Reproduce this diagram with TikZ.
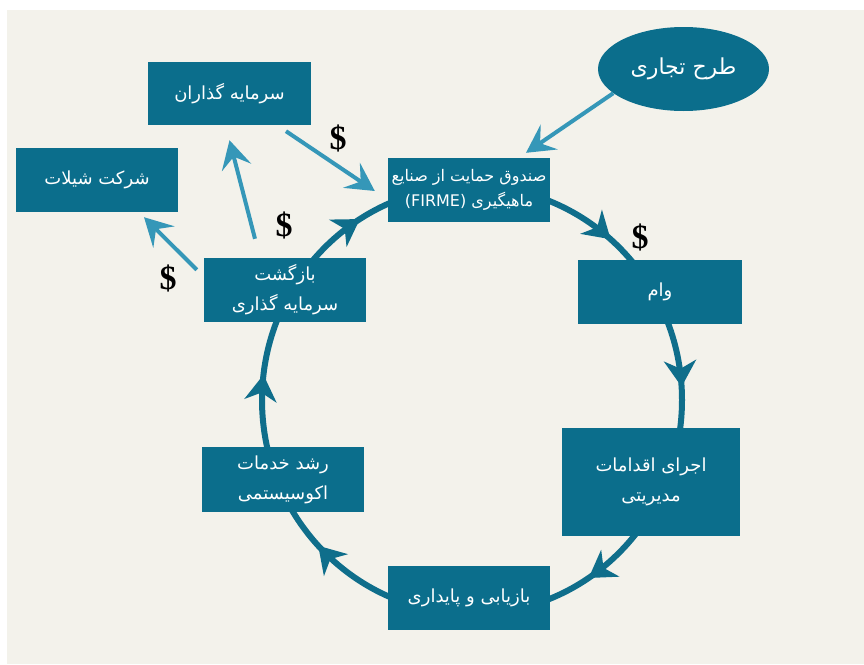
\documentclass[tikz,border=0pt]{standalone}
\usepackage{fontspec}
\usetikzlibrary{arrows.meta,decorations.markings,shapes.geometric,calc}
\TeXXeTstate=1
\newfontfamily\fa[Script=Arabic]{DejaVu Sans}
\newfontfamily\dolfont{Liberation Serif}
\newcommand\faR[1]{\beginR #1\endR}
\definecolor{bgc}{HTML}{F3F2EB}
\definecolor{boxc}{HTML}{0B6E8C}
\definecolor{ringc}{HTML}{0F6E8B}
\definecolor{arrc}{HTML}{3597B8}
\tikzset{
  RingTip/.tip={Stealth[length=26pt,width=32pt,inset=8pt]},
  box/.style={fill=boxc, text=white, font=\fa\fontsize{18}{30}\selectfont, align=center, inner sep=0pt},
  ringline/.style={draw=ringc, line width=6pt},
  sarrow/.style={draw=arrc, line width=4pt, -{Stealth[length=28pt,width=30pt,inset=11pt]}},
  dollar/.style={font=\dolfont\bfseries\fontsize{34}{36}\selectfont, text=black}
}
\begin{document}
\begin{tikzpicture}[x=1pt,y=1pt]
\useasboundingbox (0,0) rectangle (864,-664);
\fill[white] (0,0) rectangle (864,-664);
\fill[bgc] (7,-10) rectangle (864,-664);

% ring
\draw[ringline, postaction={decorate}, decoration={markings,
  mark=at position 0.114 with {\arrow{RingTip}},
  mark=at position 0.24 with {\arrow{RingTip}},
  mark=at position 0.407 with {\arrow{RingTip}},
  mark=at position 0.63 with {\arrow{RingTip}},
  mark=at position 0.769 with {\arrow{RingTip}},
  mark=at position 0.911 with {\arrow{RingTip}}}]
  (472,-186) arc[start angle=90, end angle=-270, x radius=210, y radius=214];

% nodes
\node[ellipse, fill=boxc, text=white, font=\fa\fontsize{22}{26}\selectfont, minimum width=171pt, minimum height=84pt, inner sep=0pt] (ell) at (683.5,-69) {\faR{طرح تجاری}};
\node[box, minimum width=163pt, minimum height=63pt] (inv) at (229.5,-93.5) {\faR{سرمایه گذاران}};
\node[box, minimum width=162pt, minimum height=64pt] (shil) at (97,-180) {\faR{شرکت شیلات}};
\node[box, minimum width=162pt, minimum height=64pt, font=\fa\fontsize{16}{25}\selectfont] (firme) at (469,-190) {\faR{صندوق حمایت از صنایع}\\\faR{ماهیگیری \beginL(FIRME)\endL}};
\node[box, minimum width=162pt, minimum height=64pt] (ret) at (285,-290) {\faR{بازگشت}\\\faR{سرمایه گذاری}};
\node[box, minimum width=164pt, minimum height=64pt] (loan) at (660,-292) {\faR{وام}};
\node[box, minimum width=178pt, minimum height=108pt] (mgmt) at (651,-482) {\faR{اجرای اقدامات}\\\faR{مدیریتی}};
\node[box, minimum width=162pt, minimum height=65pt] (eco) at (283,-479.5) {\faR{رشد خدمات}\\\faR{اکوسیستمی}};
\node[box, minimum width=162pt, minimum height=64pt] (rest) at (469,-598) {\faR{بازیابی و پایداری}};

% straight arrows
\draw[sarrow] (ell.199) -- ([xshift=57pt,yshift=5pt]firme.north);
\draw[sarrow] ([xshift=56.5pt,yshift=-6pt]inv.south) -- ([xshift=-13pt,yshift=-1pt]firme.west);
\draw[sarrow] ([xshift=-30pt,yshift=19pt]ret.north) -- ([yshift=-15pt]inv.south);
\draw[sarrow] ([xshift=-7pt,yshift=-12pt]ret.north west) -- ([xshift=47pt,yshift=-5pt]shil.south);

% dollar signs
\node[dollar] (d1) at (338,-138) {\$};
\node[dollar] (d2) at (284,-225) {\$};
\node[dollar] (d3) at (168,-278) {\$};
\node[dollar] (d4) at (640,-237) {\$};
\end{tikzpicture}
\end{document}
